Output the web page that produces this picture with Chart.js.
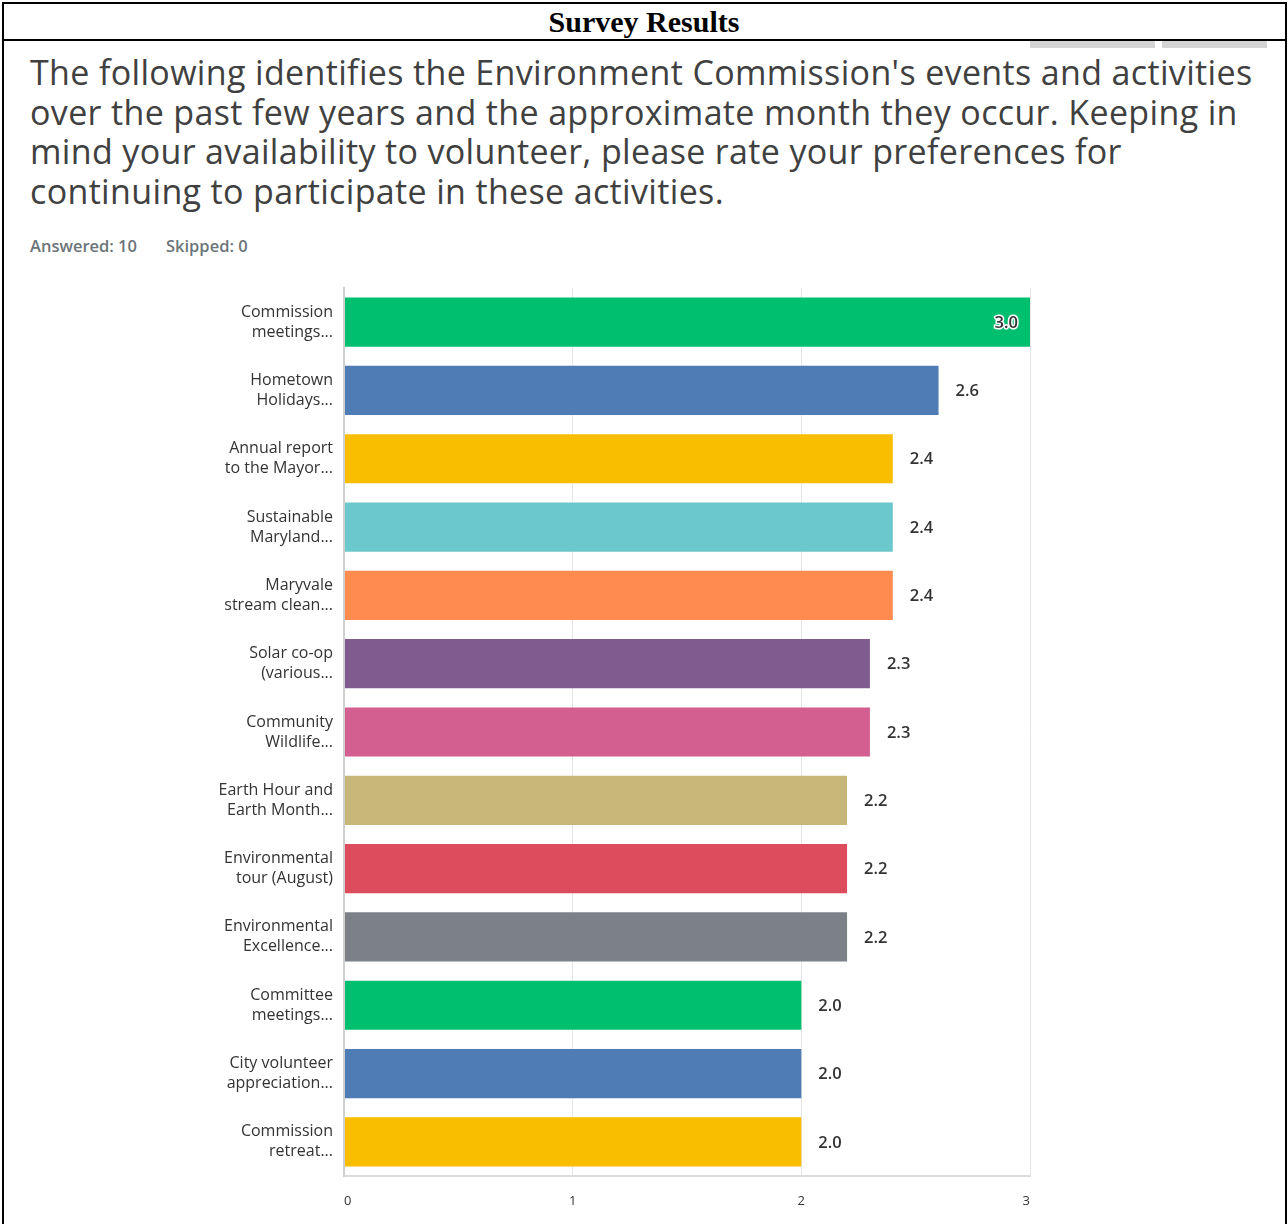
<!DOCTYPE html>
<html>
<head>
<meta charset="utf-8">
<script src="https://cdn.jsdelivr.net/npm/chart.js@4.4.1/dist/chart.umd.min.js"></script>
<style>
  html, body { margin:0; padding:0; background:#fff; }
  body { width:1288px; height:1224px; position:relative; overflow:hidden; }
  #frame { position:absolute; left:2px; top:2px; width:1285px; height:1240px; border:2px solid #000; border-bottom:none; box-sizing:border-box; }
  #title { position:absolute; left:0; top:3px; width:1288px; height:38px; text-align:center; font-family:"Liberation Serif","Times New Roman",serif; font-weight:bold; font-size:30px; line-height:38px; color:#000; }
  #titleLine { position:absolute; left:2px; top:39px; width:1285px; height:2px; background:#000; }
  .tab { position:absolute; top:41px; height:7px; background:#d4d4d4; }
  #q { position:absolute; left:30px; top:53px; font-family:"Open Sans","Noto Sans",sans-serif; font-size:34px; letter-spacing:0.35px; line-height:39.5px; color:#404040; white-space:nowrap; }
  #meta { position:absolute; left:30px; top:234px; font-family:"Open Sans","Noto Sans",sans-serif; font-size:16.5px; color:#6b7479; font-weight:600; }
  #meta span { margin-right:29px; }
  #wrap { position:absolute; left:0; top:270px; width:1288px; height:954px; }
</style>
</head>
<body>
<div id="frame"></div>
<div id="title">Survey Results</div>
<div id="titleLine"></div>
<div class="tab" style="left:1030px;width:125px;"></div>
<div class="tab" style="left:1162px;width:105px;"></div>
<div id="q">
  <div>The following identifies the Environment Commission's events and activities</div>
  <div>over the past few years and the approximate month they occur. Keeping in</div>
  <div>mind your availability to volunteer, please rate your preferences for</div>
  <div>continuing to participate in these activities.</div>
</div>
<div id="meta"><span>Answered: 10</span><span>Skipped: 0</span></div>
<div id="wrap"><canvas id="c"></canvas></div>
<script>
const categories = [
  ["Commission", "meetings..."],
  ["Hometown", "Holidays..."],
  ["Annual report", "to the Mayor..."],
  ["Sustainable", "Maryland..."],
  ["Maryvale", "stream clean..."],
  ["Solar co-op", "(various..."],
  ["Community", "Wildlife..."],
  ["Earth Hour and", "Earth Month..."],
  ["Environmental", "tour (August)"],
  ["Environmental", "Excellence..."],
  ["Committee", "meetings..."],
  ["City volunteer", "appreciation..."],
  ["Commission", "retreat..."]
];
const averages = [3.0, 2.6, 2.4, 2.4, 2.4, 2.3, 2.3, 2.2, 2.2, 2.2, 2.0, 2.0, 2.0];
const barColors = ["#00bf6f","#507cb6","#f9be00","#6bc8cd","#ff8b4f","#7f5b8f","#d25f90","#c7b879","#dc4c5c","#7c8188","#00bf6f","#507cb6","#f9be00"];
const xTicks = [0, 1, 2, 3];

const valueLabels = {
  id: 'valueLabels',
  afterDatasetsDraw(chart) {
    const ctx = chart.ctx;
    const meta = chart.getDatasetMeta(0);
    const data = chart.data.datasets[0].data;
    const max = chart.scales.x.max;
    ctx.save();
    ctx.font = '600 16.5px "Open Sans", "Noto Sans", sans-serif';
    ctx.textBaseline = 'middle';
    ctx.lineJoin = 'round';
    meta.data.forEach((el, i) => {
      const v = data[i];
      const txt = v.toFixed(1);
      let x;
      if (v >= max) { ctx.textAlign = 'right'; x = el.x - 12; }
      else { ctx.textAlign = 'left'; x = el.x + 17; }
      ctx.lineWidth = 3;
      ctx.strokeStyle = '#ffffff';
      ctx.strokeText(txt, x, el.y + 1);
      ctx.fillStyle = '#333333';
      ctx.fillText(txt, x, el.y + 1);
    });
    ctx.restore();
  }
};

new Chart(document.getElementById('c'), {
  type: 'bar',
  data: {
    labels: categories,
    datasets: [{
      data: averages,
      backgroundColor: barColors,
      borderWidth: 0,
      categoryPercentage: 1.0,
      barPercentage: 0.72
    }]
  },
  options: {
    indexAxis: 'y',
    responsive: true,
    maintainAspectRatio: false,
    animation: false,
    layout: { padding: { top: 18, right: 258, left: 0, bottom: 0 } },
    plugins: { legend: { display: false }, tooltip: { enabled: false } },
    scales: {
      x: {
        min: 0, max: 3,
        afterBuildTicks(s) { s.ticks = xTicks.map(v => ({ value: v })); },
        afterFit(s) { s.height = 48; },
        grid: {
          drawTicks: false,
          color: (c) => c.tick && c.tick.value === 0 ? '#cfcfcf' : '#e6e6e6',
          lineWidth: (c) => c.tick && c.tick.value === 0 ? 2 : 1
        },
        border: { display: true, color: '#dcdcdc', width: 2 },
        ticks: {
          padding: 17,
          align: 'inner',
          color: '#333',
          font: { family: '"Open Sans", "Noto Sans", sans-serif', size: 13 },
          callback: (v) => String(v)
        }
      },
      y: {
        afterFit(s) { s.width = 344; s.paddingTop = 0; s.paddingBottom = 0; },
        grid: { display: false, drawTicks: false },
        border: { display: true, color: '#cfcfcf', width: 2 },
        ticks: {
          padding: 11,
          color: '#333',
          font: { family: '"Open Sans", "Noto Sans", sans-serif', size: 16, lineHeight: 1.25 }
        }
      }
    }
  },
  plugins: [valueLabels]
});
</script>
</body>
</html>
